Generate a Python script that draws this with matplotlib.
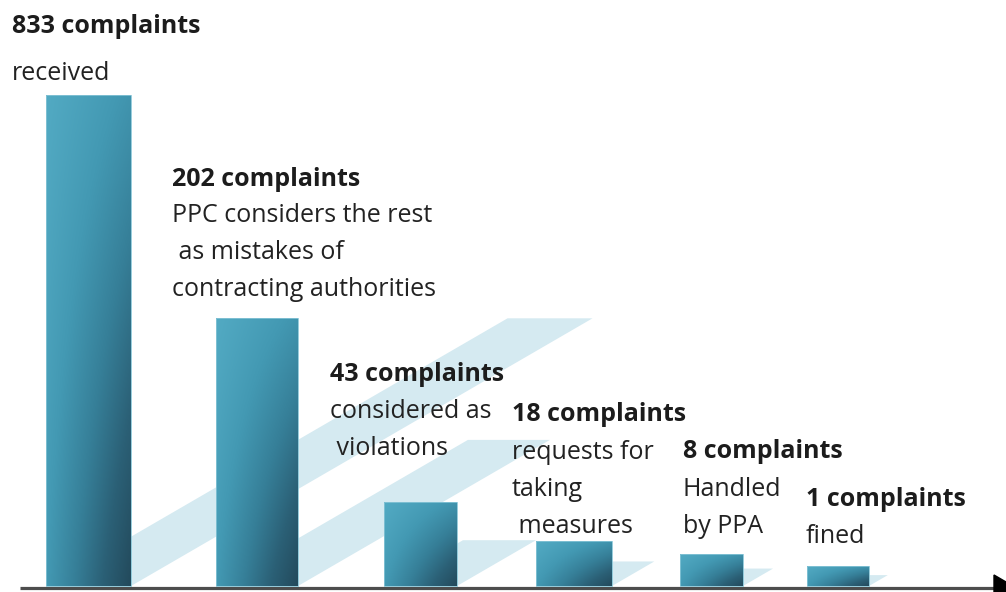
import numpy as np
import matplotlib.pyplot as plt
from matplotlib.colors import LinearSegmentedColormap
from matplotlib.patches import Polygon

# data
counts = [833, 202, 43, 18, 8, 1]
captions = [
    ["received"],
    ["PPC considers the rest", " as mistakes of", "contracting authorities"],
    ["considered as", " violations"],
    ["requests for", "taking", " measures"],
    ["Handled", "by PPA"],
    ["fined"],
]
# drawn bar heights (the source is not to scale)
bar_heights = [491, 268, 84, 45, 32, 20]

# layout (pixel-like units, baseline = 0)
bar_left = [46, 216, 384, 536, 680, 807]
bar_width = [85, 82, 73, 76, 63, 62]
label_x = [12, 172, 330, 512, 683, 806]
label_top = [572, 419, 224, 184, 147, 99]
first_gap = [47, 36, 37, 38, 38, 37]
line_step = 37
shadow_slope = 0.58
shadow_len = 0.94

cmap = LinearSegmentedColormap.from_list("bar", ["#52aac3", "#4399b3", "#367f98", "#2b6076", "#234a5c"])
shadow_color = "#d5eaf1"

fig = plt.figure(figsize=(10.06, 5.92), dpi=100)
ax = fig.add_axes([0, 0, 1, 1])
ax.set_xlim(0, 1006)
ax.set_ylim(-6, 586)
ax.axis("off")

# axis line with arrow
ax.plot([20, 998], [-1.8, -1.8], color="#4d4d4d", lw=2.3, zorder=1, solid_capstyle="butt")
ax.add_patch(Polygon([(994, 11), (994, -15), (1016, -1.8)], closed=True, color="black", zorder=1))

bars = ax.bar(bar_left, bar_heights, width=bar_width, align="edge", color="none",
              edgecolor="#86c4d6", linewidth=0.6, zorder=3)

yy, xx = np.mgrid[0:1:200j, 0:1:100j]
for rect in bars:
    L, w, h = rect.get_x(), rect.get_width(), rect.get_height()
    R = L + w
    # light shadow cast up-right
    T = shadow_len * h
    s = shadow_slope
    ax.add_patch(Polygon([(L, 0), (R, 0), (R + T, s * T), (L + T, s * T)],
                         closed=True, facecolor=shadow_color, edgecolor="none", zorder=0))
    # diagonal gradient fill, light top-left to dark bottom-right
    g = 0.3 * xx + 0.25 * yy + 0.45 * xx * yy
    im = ax.imshow(g, cmap=cmap, extent=(L, R, 0, h), origin="upper", aspect="auto",
                   vmin=0, vmax=1, zorder=2, interpolation="bilinear")
    im.set_clip_path(rect)

font = "Open Sans"
for i in range(len(counts)):
    x, top = label_x[i], label_top[i]
    ax.text(x, top, f"{counts[i]} complaints", fontsize=18, fontweight="bold",
            family=font, color="#1c1c1c", va="top", ha="left", zorder=5)
    for j, line in enumerate(captions[i]):
        y = top - first_gap[i] - line_step * j
        ax.text(x, y, line, fontsize=18, family=font,
                color="#222222", va="top", ha="left", zorder=5)

fig.savefig("out.png", dpi=100)
